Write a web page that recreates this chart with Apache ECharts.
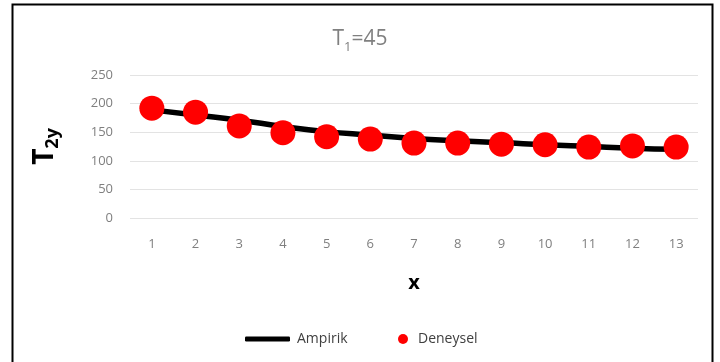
<!DOCTYPE html>
<html><head><meta charset="utf-8">
<script src="https://cdn.jsdelivr.net/npm/echarts@6/dist/echarts.min.js"></script>
<style>html,body{margin:0;padding:0;background:#fff}#c{width:720px;height:362px}</style>
</head><body><div id="c"></div>
<script>
const categories = ['1','2','3','4','5','6','7','8','9','10','11','12','13'];
const ampirik = [189, 180, 171, 160, 151, 145, 139, 135, 132, 128, 125, 122, 120];
const deneysel = [192, 185, 161, 149, 142, 138, 131, 131, 129, 128, 124, 126, 124];
const yTicks = {min: 0, max: 250, interval: 50};

const chart = echarts.init(document.getElementById('c'));
const font = "'Open Sans', 'Liberation Sans', sans-serif";
chart.setOption({
  animation: false,
  backgroundColor: '#fff',
  graphic: [{
    type: 'rect', shape: {x: 12.5, y: 4.5, width: 700, height: 370},
    style: {fill: 'none', stroke: '#000', lineWidth: 2}, silent: true
  }],
  title: {
    text: '{a|T}{b|1}{a|=45}',
    left: 'center', top: 20,
    textStyle: {
      fontWeight: 'normal',
      rich: {
        a: {fontSize: 21, color: '#808080', fontFamily: font, fontWeight: 'normal'},
        b: {fontSize: 13, color: '#808080', fontFamily: font, fontWeight: 'normal', verticalAlign: 'bottom', padding: [16, 0, 0, 0]}
      }
    }
  },
  legend: [{
    top: 327, left: 240,
    itemWidth: 45, itemHeight: 5, icon: 'roundRect',
    textStyle: {fontSize: 14, color: '#404040', fontFamily: font, padding: [0, 0, 0, 2]},
    data: ['Ampirik']
  }, {
    top: 327, left: 393,
    itemWidth: 10, itemHeight: 10, icon: 'circle',
    textStyle: {fontSize: 14, color: '#404040', fontFamily: font, padding: [0, 0, 0, 5]},
    data: ['Deneysel']
  }],
  grid: {left: 130, right: 22, top: 75, bottom: 144},
  xAxis: {
    type: 'category', data: categories, boundaryGap: true,
    name: 'x', nameLocation: 'middle', nameGap: 55,
    nameTextStyle: {fontSize: 20, fontWeight: 'bold', color: '#000', fontFamily: font},
    axisLine: {show: false}, axisTick: {show: false},
    axisLabel: {color: '#7f7f7f', fontSize: 13, margin: 20, fontFamily: font}
  },
  yAxis: {
    type: 'value', min: yTicks.min, max: yTicks.max, interval: yTicks.interval,
    name: '{t|T}{s|2y}', nameLocation: 'middle', nameGap: 68, nameRotate: 90,
    nameTextStyle: {
      rich: {
        t: {fontSize: 28, fontWeight: 'bold', color: '#000', fontFamily: font},
        s: {fontSize: 18, fontWeight: 'bold', color: '#000', fontFamily: font, verticalAlign: 'bottom', padding: [16, 0, 0, 0]}
      }
    },
    axisLine: {show: false}, axisTick: {show: false},
    axisLabel: {color: '#7f7f7f', fontSize: 13, margin: 17, fontFamily: font},
    splitLine: {lineStyle: {color: '#e3e3e3', width: 1}}
  },
  series: [
    {name: 'Ampirik', type: 'line', data: ampirik, symbol: 'none', smooth: true,
     lineStyle: {color: '#000', width: 5.5}, itemStyle: {color: '#000'}, z: 2},
    {name: 'Deneysel', type: 'scatter', data: deneysel, symbolSize: 25,
     itemStyle: {color: '#ff0000', opacity: 1}, z: 3}
  ]
});
</script></body></html>
